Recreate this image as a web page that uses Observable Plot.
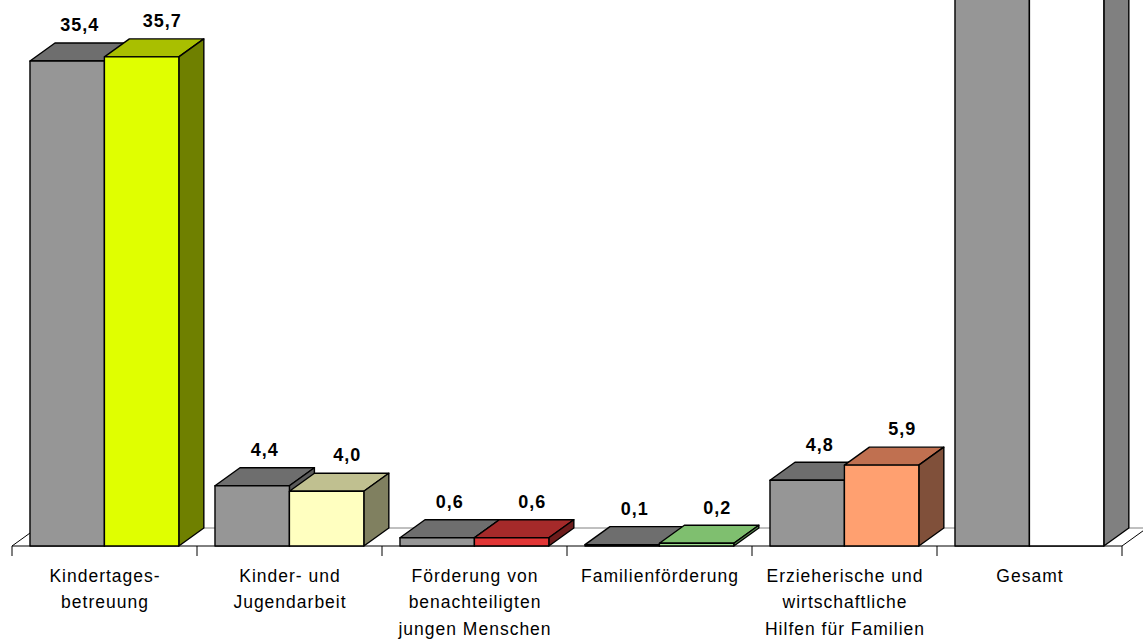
<!DOCTYPE html>
<html>
<head>
<meta charset="utf-8">
<script src="https://cdn.jsdelivr.net/npm/d3@7"></script>
<script src="https://cdn.jsdelivr.net/npm/@observablehq/plot@0.6"></script>
<style>
  html, body { margin: 0; padding: 0; background: #fff; }
</style>
</head>
<body>
<div id="chart"></div>
<script>
// Categories, their axis labels and the two series (in percent)
const categories = [
  "Kindertagesbetreuung",
  "Kinder- und Jugendarbeit",
  "Förderung von benachteiligten jungen Menschen",
  "Familienförderung",
  "Erzieherische und wirtschaftliche Hilfen für Familien",
  "Gesamt"
];
const tickLabels = [
  "Kindertages-\nbetreuung",
  "Kinder- und\nJugendarbeit",
  "Förderung von\nbenachteiligten\njungen Menschen",
  "Familienförderung",
  "Erzieherische und\nwirtschaftliche\nHilfen für Familien",
  "Gesamt"
];
const valuesFirst = [35.4, 4.4, 0.6, 0.1, 4.8, 45.3];
const valuesSecond = [35.7, 4.0, 0.6, 0.2, 5.9, 46.4];

// Face colours of the 3D boxes
const greyFaces = {front: "#969696", top: "#6e6e6e", side: "#5a5a5a"};
const colourFaces = [
  {front: "#e0ff00", top: "#a9bf00", side: "#6f8000"},
  {front: "#ffffc0", top: "#c0c090", side: "#808060"},
  {front: "#e23636", top: "#a52a2a", side: "#6e1c1c"},
  {front: "#a0e090", top: "#7fbf6f", side: "#5a8a50"},
  {front: "#ffa070", top: "#c07050", side: "#80503a"},
  {front: "#ffffff", top: "#c0c0c0", side: "#808080"}
];

const yMax = 40;                  // top of the value axis
const depthX = 25, depthY = 18;   // oblique offset of the back faces
const barInset = 0.0972;          // gap before the first bar, as share of the band
const barShare = 0.4023;          // width of one bar, as share of the band

const fmt = v => v.toFixed(1).replace(".", ",");
const rowsFirst = categories.map((c, i) => ({category: c, value: valuesFirst[i]}));
const rowsSecond = categories.map((c, i) => ({category: c, value: valuesSecond[i]}));
const labelOf = new Map(categories.map((c, i) => [c, tickLabels[i]]));

// Floor, 3D boxes and category ticks, positioned through the plot's scales
function boxes(index, scales) {
  const x = scales.x, y = scales.y;
  const bw = x.bandwidth ? x.bandwidth() : x(categories[1]) - x(categories[0]);
  const g = d3.create("svg:g");
  const y0 = y(0);
  const x0 = x(categories[0]);
  const xN = x(categories[categories.length - 1]) + bw;

  // floor plane
  g.append("path")
    .attr("d", `M${x0},${y0}L${xN},${y0}L${xN + depthX},${y0 - depthY}L${x0 + depthX},${y0 - depthY}Z`)
    .attr("fill", "#fff").attr("stroke", "none");
  g.append("line")
    .attr("x1", x0 + depthX).attr("x2", xN + depthX)
    .attr("y1", y0 - depthY).attr("y2", y0 - depthY)
    .attr("stroke", "#808080").attr("stroke-width", 1);
  g.append("path")
    .attr("d", `M${x0 + depthX},${y0 - depthY}L${x0},${y0}L${xN},${y0}L${xN + depthX},${y0 - depthY}`)
    .attr("fill", "none").attr("stroke", "#000").attr("stroke-width", 1);

  const face = (d, fill) => g.append("path")
    .attr("d", d).attr("fill", fill)
    .attr("stroke", "#000").attr("stroke-width", 1.4).attr("stroke-linejoin", "round");

  const box = (left, w, v, faces) => {
    const t = y(v);
    const r = left + w;
    face(`M${left},${t}L${r},${t}L${r + depthX},${t - depthY}L${left + depthX},${t - depthY}Z`, faces.top);
    face(`M${r},${t}L${r + depthX},${t - depthY}L${r + depthX},${y0 - depthY}L${r},${y0}Z`, faces.side);
    face(`M${left},${t}L${r},${t}L${r},${y0}L${left},${y0}Z`, faces.front);
  };

  categories.forEach((c, i) => {
    const w = bw * barShare;
    const left = x(c) + bw * barInset;
    box(left, w, valuesFirst[i], greyFaces);
    box(left + w, w, valuesSecond[i], colourFaces[i]);
  });

  // ticks on the category boundaries
  const edges = categories.map(c => x(c)).concat([xN]);
  for (const e of edges) {
    g.append("line")
      .attr("x1", e).attr("x2", e).attr("y1", y0).attr("y2", y0 + 10)
      .attr("stroke", "#000").attr("stroke-width", 1);
  }
  return g.node();
}

const bwPx = (1122 - 11) / categories.length;
const bandCenter = bwPx / 2;
const dxFirst = bwPx * (barInset + barShare / 2) + 12 - bandCenter;
const dxSecond = bwPx * (barInset + barShare * 1.5) + 20 - bandCenter;

const chart = Plot.plot({
  width: 1143,
  height: 640,
  marginTop: 0,
  marginRight: 0,
  marginLeft: 0,
  marginBottom: 94,
  style: {
    background: "#fff",
    fontFamily: "Arial, 'Liberation Sans', sans-serif",
    fontSize: "17.5px",
    color: "#000"
  },
  x: {type: "band", domain: categories, range: [11, 1122], padding: 0, label: null},
  y: {domain: [0, yMax], range: [546, -2], axis: null},
  marks: [
    boxes,
    // value labels for the bars that end inside the value axis
    Plot.text(rowsFirst, {
      filter: d => d.value <= yMax,
      x: "category", y: "value", text: d => fmt(d.value),
      dx: dxFirst, dy: -36, fontWeight: "bold", fontSize: 18, fill: "#000"
    }),
    Plot.text(rowsSecond, {
      filter: d => d.value <= yMax,
      x: "category", y: "value", text: d => fmt(d.value),
      dx: dxSecond, dy: -36, fontWeight: "bold", fontSize: 18, fill: "#000"
    }),
    Plot.axisX({
      tickSize: 0, tickPadding: 17, lineHeight: 1.5, fontSize: 17.5,
      label: null, tickFormat: d => labelOf.get(d)
    })
  ]
});

// letter spacing of all texts
d3.select(chart).selectAll("text").style("letter-spacing", "1px");
document.getElementById("chart").appendChild(chart);
</script>
</body>
</html>
